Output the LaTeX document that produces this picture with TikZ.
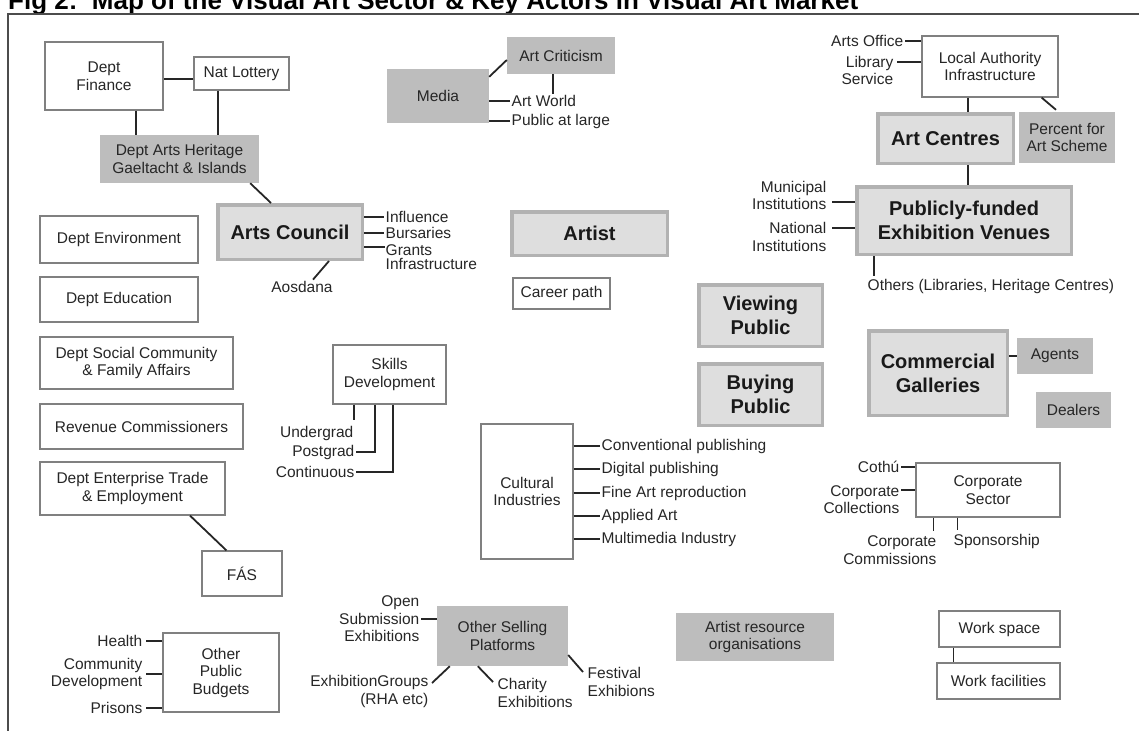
\documentclass[tikz,border=0pt]{standalone}
\usepackage{fontspec}
\setmainfont{Liberation Sans}
\newcommand{\mapsmall}{\fontsize{15.5}{17.5}\selectfont}
\newcommand{\mapbig}{\fontsize{20}{24}\selectfont\bfseries}

\begin{document}
\begin{tikzpicture}[x=1pt,y=-1pt]

    % Define styles
    \tikzset{
        plain box/.style={draw=black!50, line width=1.2pt, fill=white, align=center, font=\mapsmall, text=black!85, inner sep=2pt},
        shade box/.style={fill=black!26, draw=none, align=center, font=\mapsmall, text=black!85, inner sep=2pt},
        key box/.style={fill=black!13, draw=black!30, line width=3.5pt, align=center, font=\mapbig, text=black!90, inner sep=2pt},
        lbl/.style={inner sep=1.5pt, font=\mapsmall, text=black!85},
        link/.style={line width=1.8pt, draw=black!85}
    }

    % Page size and frame
    \useasboundingbox (0,0) rectangle (1139,731);
    \node[anchor=base west, inner sep=0pt, font=\fontsize{26}{30}\selectfont\bfseries] (title) at (8,9)
        {Fig 2:\ \ Map of the Visual Art Sector \& Key Actors in Visual Art Market};
    \draw[line width=2pt, black!70] (1139,14) -- (8,14) -- (8,731);

    % Government departments (left column)
    \node[plain box, minimum width=118pt, minimum height=68pt] (fin) at (104,76) {Dept\\Finance};
    \node[plain box, minimum width=95pt, minimum height=33pt] (lot) at (241.5,73.5) {Nat Lottery};
    \node[shade box, minimum width=159pt, minimum height=48pt] (dah) at (179.5,159) {Dept Arts Heritage\\Gaeltacht \& Islands};
    \node[key box, minimum width=144.5pt, minimum height=54.5pt] (ac) at (290,232) {Arts Council};

    \node[plain box, minimum width=158pt, minimum height=47pt] (env) at (119,239.5) {Dept Environment};
    \node[plain box, minimum width=158pt, minimum height=45pt] (edu) at (119,299.5) {Dept Education};
    \node[plain box, minimum width=193pt, minimum height=52pt] (soc) at (136.5,363) {Dept Social Community\\\& Family Affairs};
    \node[plain box, minimum width=203pt, minimum height=45pt] (rev) at (141.5,426.5) {Revenue Commissioners};
    \node[plain box, minimum width=185pt, minimum height=53pt] (ent) at (132.5,488.5) {Dept Enterprise Trade\\\& Employment};
    \node[plain box, minimum width=80pt, minimum height=45pt] (fas) at (242,573.5) {FÁS};
    \node[plain box, minimum width=116pt, minimum height=79pt] (opb) at (221,672.5) {Other\\Public\\Budgets};

    % Media
    \node[shade box, minimum width=102pt, minimum height=54pt] (media) at (438,96) {Media};
    \node[shade box, minimum width=108pt, minimum height=37pt] (crit) at (561,55.5) {Art Criticism};

    % Local authority and public venues
    \node[plain box, minimum width=136pt, minimum height=61pt] (la) at (990,66.5) {Local Authority\\Infrastructure};
    \node[key box, minimum width=135.5pt, minimum height=49.5pt] (artc) at (945.5,138.5) {Art Centres};
    \node[shade box, minimum width=96pt, minimum height=51pt] (pct) at (1067,137.5) {Percent for\\Art Scheme};
    \node[key box, minimum width=214.5pt, minimum height=67.5pt] (pfev) at (964,220.5) {Publicly-funded\\Exhibition Venues};

    % Artist and publics
    \node[key box, minimum width=155.5pt, minimum height=43.5pt] (artist) at (589.5,233.5) {Artist};
    \node[plain box, minimum width=97pt, minimum height=31pt] (career) at (561.5,293.5) {Career path};
    \node[key box, minimum width=123.5pt, minimum height=61.5pt] (view) at (760.5,315.5) {Viewing\\Public};
    \node[key box, minimum width=123.5pt, minimum height=61.5pt] (buy) at (760.5,394.5) {Buying\\Public};

    % Market
    \node[key box, minimum width=138.5pt, minimum height=84.5pt] (comm) at (938,373) {Commercial\\Galleries};
    \node[shade box, minimum width=76pt, minimum height=36pt] (agents) at (1055,356) {Agents};
    \node[shade box, minimum width=75pt, minimum height=36pt] (dealers) at (1073.5,410) {Dealers};
    \node[plain box, minimum width=144pt, minimum height=54pt] (corp) at (988,490) {Corporate\\Sector};

    % Skills, industries, selling
    \node[plain box, minimum width=113pt, minimum height=59pt] (skills) at (389.5,374.5) {Skills\\Development};
    \node[plain box, minimum width=92pt, minimum height=135pt] (cult) at (527,491.5) {Cultural\\Industries};
    \node[shade box, minimum width=131pt, minimum height=60pt] (osp) at (502.5,636) {Other Selling\\Platforms};
    \node[shade box, minimum width=158pt, minimum height=48pt] (aro) at (755,637) {Artist resource\\organisations};
    \node[plain box, minimum width=121pt, minimum height=36pt] (wsp) at (999.5,629) {Work space};
    \node[plain box, minimum width=123pt, minimum height=36pt] (wfac) at (998.5,681) {Work facilities};

    % Funding links
    \draw[link] ([yshift=-5.5pt]lot.west) -- ([yshift=-5.5pt]lot.west -| fin.east);
    \draw[link] ([xshift=32pt]fin.south) -- ([xshift=32pt]fin.south |- dah.north);
    \draw[link] ([xshift=-23.5pt]lot.south) -- ([xshift=-23.5pt]lot.south |- dah.north);
    \draw[link] ([xshift=-9pt]dah.south east) -- ([xshift=55pt]ac.north west);
    \draw[link] ([xshift=57.5pt]ent.south) -- ([xshift=25pt]fas.north west);

    % Arts Council outputs
    \node[lbl, anchor=west] (infl) at (384,217) {Influence};
    \node[lbl, anchor=west] (burs) at (384,233) {Bursaries};
    \node[lbl, anchor=west, align=left, font=\fontsize{15.5}{14}\selectfont] (grants) at (384,257) {Grants\\Infrastructure};
    \coordinate (grants-pin) at (385,247);
    \node[lbl] (aos) at (302,287) {Aosdana};
    \draw[link] (ac.east |- infl.west) -- (infl.west);
    \draw[link] (ac.east |- burs.west) -- (burs.west);
    \draw[link] (ac.east |- grants-pin) -- (grants-pin);
    \draw[link] ([xshift=39pt]ac.south) -- ([xshift=11pt]aos.north);

    % Media audiences
    \node[lbl, anchor=west] (artw) at (510,101) {Art World};
    \node[lbl, anchor=west] (pub) at (510,121) {Public at large};
    \draw[link] ([yshift=-8pt]media.north east) -- ([yshift=-4.5pt]crit.west);
    \draw[link] ([xshift=-8pt]crit.south) -- ([xshift=-8pt]crit.south |- artw.north);
    \draw[link] (media.east |- artw.west) -- (artw.west);
    \draw[link] (media.east |- pub.west) -- (pub.west);

    % Local authority branches
    \node[lbl, anchor=east] (aoff) at (905,41) {Arts Office};
    \node[lbl, anchor=east, align=right] (lib) at (895,70.5) {Library\\Service};
    \coordinate (lib-pin) at (897,62);
    \draw[link] (aoff.east) -- (aoff.east -| la.west);
    \draw[link] (lib-pin) -- (lib-pin -| la.west);
    \draw[link] ([xshift=-22pt]la.south) -- ([xshift=-22pt]la.south |- artc.north);
    \draw[link] ([xshift=-17pt]la.south east) -- ([xshift=-11pt,yshift=2pt]pct.north);
    \draw[link] ([xshift=22.5pt]artc.south) -- ([xshift=22.5pt]artc.south |- pfev.north);

    % Exhibition venues
    \node[lbl, anchor=east, align=right] (muni) at (828,195.5) {Municipal\\Institutions};
    \coordinate (muni-pin) at (832,202);
    \node[lbl, anchor=east, align=right] (nat) at (828,237) {National\\Institutions};
    \coordinate (nat-pin) at (832,228);
    \draw[link] (muni-pin) -- (muni-pin -| pfev.west);
    \draw[link] (nat-pin) -- (nat-pin -| pfev.west);
    \node[lbl, anchor=west] (others) at (866,286) {Others (Libraries, Heritage Centres)};
    \draw[link, shorten >=1pt] ([xshift=19pt]pfev.south west) -- ([xshift=19pt]pfev.south west |- others.north);

    % Commercial galleries
    \draw[link] (agents.west) -- (agents.west -| comm.east);

    % Corporate sector
    \node[lbl, anchor=east] (cothu) at (901,467) {Cothú};
    \node[lbl, anchor=east, align=right] (ccoll) at (901,499.5) {Corporate\\Collections};
    \coordinate (ccoll-pin) at (901,490);
    \draw[link] (cothu.east) -- (cothu.east -| corp.west);
    \draw[link] (ccoll-pin) -- (ccoll-pin -| corp.west);
    \node[lbl, anchor=east, align=right] (ccom) at (938,550) {Corporate\\Commissions};
    \node[lbl, anchor=west] (spons) at (952,541) {Sponsorship};
    \draw[link, shorten >=3pt] ([xshift=18pt]corp.south west) -- ([xshift=18pt]corp.south west |- ccom.north);
    \draw[link, shorten >=2pt] ([xshift=42pt]corp.south west) -- ([xshift=42pt]corp.south west |- spons.north);

    % Work space
    \draw[link] ([xshift=15pt]wsp.south west) -- ([xshift=15pt]wsp.south west |- wfac.north);

    % Skills levels
    \node[lbl, anchor=east] (ug) at (355,433) {Undergrad};
    \node[lbl, anchor=east] (pg) at (356,452) {Postgrad};
    \node[lbl, anchor=east] (cont) at (356,472) {Continuous};
    \draw[link, shorten >=4pt] ([xshift=-35.5pt]skills.south) -- ([xshift=-35.5pt]skills.south |- ug.north);
    \draw[link] ([xshift=-14.5pt]skills.south) |- (pg.east);
    \draw[link] ([xshift=3.5pt]skills.south) |- (cont.east);

    % Cultural industries
    \foreach \nm/\yy/\txt in {conv/446/Conventional publishing, dig/469/Digital publishing,
                              fine/493/Fine Art reproduction, appl/516/Applied Art, mm/539/Multimedia Industry} {
        \node[lbl, anchor=west] (\nm) at (600,\yy) {\txt};
        \draw[link] (cult.east |- \nm.west) -- (\nm.west);
    }

    % Other public budgets
    \node[lbl, anchor=east] (health) at (144,641) {Health};
    \node[lbl, anchor=east, align=right] (comdev) at (144,674) {Community\\Development};
    \node[lbl, anchor=east] (prisons) at (144,708) {Prisons};
    \foreach \nm in {health, comdev, prisons}
        \draw[link, shorten <=2pt] (\nm.east) -- (\nm.east -| opb.west);

    % Other selling platforms
    \node[lbl, anchor=east, align=right] (open) at (421,619) {Open\\Submission\\Exhibitions};
    \draw[link] (open.east) -- (open.east -| osp.west);
    \node[lbl, anchor=east, align=right] (exg) at (430,691.5) {ExhibitionGroups\\(RHA etc)};
    \coordinate (exg-pin) at (432,683);
    \draw[link] ([xshift=13pt]osp.south west) -- (exg-pin);
    \node[lbl, anchor=west, align=left] (char) at (496,693) {Charity\\Exhibitions};
    \coordinate (char-pin) at (493,682);
    \draw[link] ([xshift=41pt]osp.south west) -- (char-pin);
    \node[lbl, anchor=west, align=left] (fest) at (586,682) {Festival\\Exhibions};
    \coordinate (fest-pin) at (583,672);
    \draw[link] ([yshift=-19pt]osp.east) -- (fest-pin);

\end{tikzpicture}
\end{document}
